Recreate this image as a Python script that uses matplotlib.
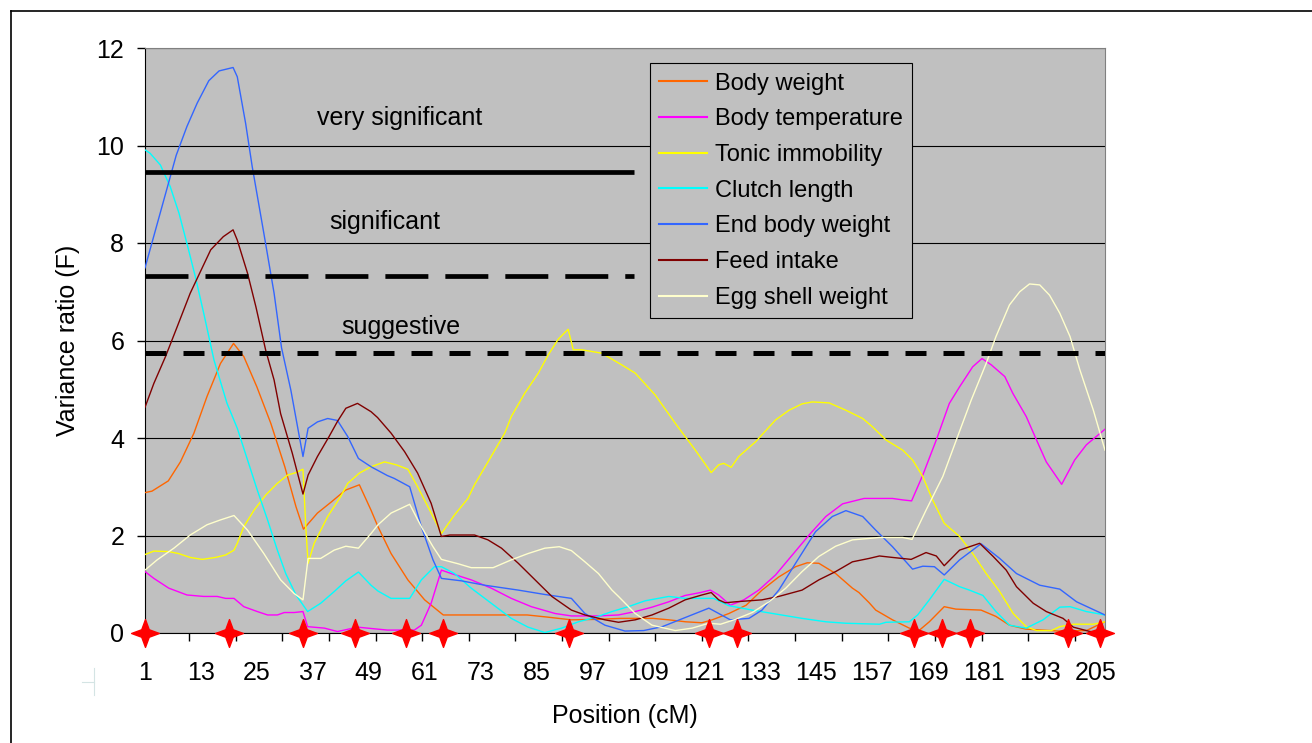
import matplotlib
matplotlib.use('Agg')
import matplotlib.pyplot as plt
from matplotlib.lines import Line2D
from matplotlib.path import Path

plt.rcParams['font.family'] = ['Liberation Sans', 'DejaVu Sans']

# QTL scan values (position in cM, variance ratio F)
bw_x = [1, 2.5, 6, 8.6, 11.5, 14.3, 17.2, 20, 22.2, 25, 28, 31, 33.4, 35, 38, 41, 44, 47, 49.5, 51,
        53.8, 57.4, 61, 65, 83, 87, 92.5, 98, 103, 110, 113.4, 117, 120.5, 122.7, 126.3, 130, 133.4,
        137, 140.6, 143.1, 145.6, 149.2, 152.8, 154.2, 156.4, 157.8, 161.4, 165, 167.2, 169.3, 172.5,
        175, 180.4, 183.6, 186.5, 190, 197, 203, 207]
bw_y = [2.88, 2.91, 3.12, 3.51, 4.1, 4.85, 5.53, 5.94, 5.67, 5.05, 4.3, 3.41, 2.59, 2.13, 2.46, 2.69,
        2.93, 3.04, 2.52, 2.18, 1.63, 1.09, 0.68, 0.37, 0.37, 0.33, 0.27, 0.28, 0.3, 0.3, 0.27, 0.23,
        0.21, 0.27, 0.4, 0.57, 0.88, 1.15, 1.36, 1.44, 1.43, 1.22, 0.92, 0.83, 0.62, 0.47, 0.27, 0.1,
        0.06, 0.23, 0.54, 0.49, 0.47, 0.34, 0.16, 0.08, 0.04, 0.05, 0.23]

bt_x = [1, 2.9, 6.1, 10, 13.6, 16.5, 18.3, 20.1, 22.2, 25.1, 27.3, 29.4, 30.9, 33, 34.9, 35.9, 39.5,
        42.3, 46.6, 53, 58.8, 60.3, 62.4, 64.6, 66.7, 71, 75.3, 79.6, 83.9, 89, 92.5, 98.3, 102.6,
        106.2, 109.8, 113.4, 116.9, 120.2, 122.3, 124.1, 126.6, 129.5, 132.7, 136.3, 139.9, 143.5,
        147.1, 150.7, 155.3, 161.4, 163.6, 165.5, 167.9, 170.8, 173.6, 175.8, 178.6, 180.6, 182.6,
        185.5, 187.2, 190.1, 192.3, 194.4, 197.7, 200.5, 203, 207]
bt_y = [1.26, 1.12, 0.92, 0.78, 0.75, 0.75, 0.71, 0.71, 0.54, 0.44, 0.37, 0.37, 0.42, 0.42, 0.44, 0.13,
        0.1, 0.03, 0.12, 0.06, 0.06, 0.16, 0.61, 1.29, 1.22, 1.09, 0.92, 0.71, 0.54, 0.4, 0.35, 0.35,
        0.37, 0.44, 0.53, 0.64, 0.77, 0.83, 0.88, 0.78, 0.57, 0.68, 0.88, 1.19, 1.6, 2.01, 2.39, 2.65,
        2.76, 2.76, 2.73, 2.71, 3.24, 3.96, 4.71, 5.05, 5.46, 5.63, 5.5, 5.26, 4.92, 4.44, 3.96, 3.51,
        3.05, 3.55, 3.86, 4.18]

ti_x = [1, 2.9, 6.1, 8.2, 10.7, 13.3, 16.1, 18.3, 20.1, 20.8, 22.2, 24.4, 26.9, 29.4, 31.6, 33.4, 34.9,
        35.5, 36, 37.3, 40.2, 43, 44.5, 47, 49.5, 52.4, 54.9, 57.4, 59.5, 62.1, 64.6, 67.4, 70.3, 71.7,
        74.6, 78.2, 79.6, 82.5, 85.4, 87.5, 89.7, 91.8, 92.9, 94.7, 99, 103.3, 106.2, 110.5, 114.8,
        119.1, 122.5, 124.1, 125.2, 126.8, 128.4, 132, 136.3, 139.2, 142, 144.2, 147.8, 151.4, 155,
        157.1, 160, 163.6, 165.7, 167.9, 170, 172.5, 175.8, 178.6, 181.5, 184.4, 187.3, 190.1, 192.3,
        195.5, 197.3, 200.2, 204.5, 207]
ti_y = [1.61, 1.68, 1.67, 1.63, 1.55, 1.51, 1.55, 1.6, 1.7, 1.84, 2.18, 2.52, 2.83, 3.07, 3.24, 3.29,
        3.36, 2.18, 1.43, 1.84, 2.39, 2.8, 3.07, 3.28, 3.41, 3.51, 3.45, 3.36, 3.0, 2.52, 2.04, 2.42,
        2.76, 3.04, 3.51, 4.1, 4.44, 4.92, 5.33, 5.7, 6.03, 6.23, 5.81, 5.81, 5.74, 5.5, 5.33, 4.88, 4.3,
        3.75, 3.29, 3.45, 3.48, 3.4, 3.62, 3.92, 4.37, 4.57, 4.7, 4.74, 4.72, 4.57, 4.4, 4.23, 3.96,
        3.75, 3.55, 3.21, 2.73, 2.25, 1.98, 1.63, 1.22, 0.85, 0.4, 0.13, 0.05, 0.05, 0.13, 0.18, 0.18,
        0.23]

cl_x = [1, 2.1, 4.3, 6.4, 8.3, 10, 11.8, 13.6, 15.8, 18.6, 20.8, 23, 25.1, 27.3, 29.4, 31.2, 33.4, 35.9,
        38.7, 41.6, 44.1, 46.8, 49.5, 51, 53.8, 57.8, 60.3, 63.1, 64.6, 67.4, 71, 75.3, 79.6, 83.2, 86.8,
        90.4, 94, 97.6, 101.2, 104.7, 108.3, 113.4, 116.9, 123, 126.3, 131.3, 136.3, 142, 147.1, 151.4,
        158.6, 160, 165, 166.8, 169.3, 172.5, 175.8, 177.9, 180.8, 183.6, 186.5, 190.1, 193.7, 197.3,
        199.5, 203, 207]
cl_y = [9.91, 9.84, 9.6, 9.16, 8.61, 7.99, 7.31, 6.56, 5.6, 4.71, 4.2, 3.55, 2.93, 2.32, 1.7, 1.22,
        0.78, 0.44, 0.61, 0.85, 1.07, 1.25, 0.98, 0.86, 0.71, 0.71, 1.09, 1.36, 1.36, 1.22, 0.92, 0.61,
        0.3, 0.12, 0.01, 0.1, 0.23, 0.32, 0.44, 0.54, 0.66, 0.75, 0.71, 0.71, 0.56, 0.47, 0.39, 0.3,
        0.23, 0.2, 0.18, 0.22, 0.23, 0.37, 0.68, 1.1, 0.95, 0.88, 0.77, 0.44, 0.16, 0.1, 0.27, 0.53,
        0.54, 0.44, 0.37]

ebw_x = [1, 7.7, 10, 12.2, 14.7, 16.9, 19.9, 20.8, 22.6, 24, 26.5, 28.7, 30.3, 32.3, 34.9, 36, 38,
         40.2, 42.3, 44.5, 46.8, 49.5, 53, 54.5, 57.8, 60.3, 62.8, 64.6, 68.9, 73.9, 81.1, 86.8, 92.5,
         95.4, 99.7, 104, 108, 112, 122, 126.6, 130.6, 133.4, 137, 140.6, 144.9, 148.5, 151.4, 155,
         157.8, 161.4, 165.7, 167.9, 170.4, 172.5, 175.8, 180.4, 184.4, 188, 193, 197.3, 200.9, 207]
ebw_y = [7.49, 9.8, 10.39, 10.87, 11.33, 11.53, 11.6, 11.41, 10.45, 9.57, 8.2, 6.97, 5.85, 4.98, 3.62,
         4.2, 4.33, 4.4, 4.36, 4.03, 3.58, 3.41, 3.23, 3.17, 3.0, 2.18, 1.5, 1.12, 1.07, 0.98, 0.88,
         0.79, 0.71, 0.4, 0.16, 0.04, 0.05, 0.13, 0.51, 0.27, 0.3, 0.47, 0.88, 1.43, 2.08, 2.39, 2.51,
         2.39, 2.11, 1.77, 1.31, 1.37, 1.36, 1.19, 1.5, 1.83, 1.53, 1.22, 0.98, 0.9, 0.64, 0.37]

fi_x = [1, 2.9, 5.4, 7.9, 10.7, 15.1, 17.8, 19.9, 20.8, 23, 24.8, 26.9, 28.7, 30.1, 32.6, 34.9, 36, 38,
        40.5, 42.3, 44.1, 46.6, 49.5, 50.9, 53.8, 56.7, 59.5, 62.4, 64.6, 66.4, 71.7, 74.6, 77.5, 81.1,
        84.7, 88.3, 92.5, 95.4, 99.7, 102.6, 106.2, 109.8, 113.4, 116.9, 120.5, 122.5, 124.1, 125.5,
        127.7, 133.4, 137, 142, 145.6, 149.2, 152.8, 156.4, 158.6, 161.4, 165.4, 168.6, 170.8, 172.5,
        175.8, 180.1, 183, 185.8, 188, 191.6, 194.4, 198, 200.2, 203.8, 207]
fi_y = [4.63, 5.12, 5.67, 6.28, 6.97, 7.86, 8.13, 8.27, 8.06, 7.38, 6.69, 5.8, 5.19, 4.5, 3.69, 2.85,
        3.24, 3.62, 4.03, 4.34, 4.61, 4.71, 4.54, 4.42, 4.1, 3.72, 3.28, 2.66, 1.98, 2.01, 2.01, 1.91,
        1.74, 1.43, 1.09, 0.75, 0.47, 0.37, 0.27, 0.22, 0.27, 0.37, 0.51, 0.68, 0.78, 0.83, 0.68, 0.62,
        0.64, 0.68, 0.75, 0.88, 1.09, 1.26, 1.46, 1.53, 1.58, 1.55, 1.51, 1.65, 1.58, 1.38, 1.7, 1.84,
        1.57, 1.29, 0.95, 0.61, 0.44, 0.3, 0.12, 0.03, 0.03]

es_x = [1, 3.6, 7.2, 10.7, 14.3, 17.2, 20.1, 23, 26.5, 30.1, 33, 34.9, 36, 38.7, 41.6, 44.1, 46.8, 49.5,
        51, 53.8, 57.8, 60.3, 62.8, 64.6, 68.2, 71, 75.7, 79.6, 83.2, 86.8, 89.9, 92.5, 95.4, 98.3,
        101.2, 102.6, 106.2, 109.8, 114.8, 118.4, 122, 124.5, 127.7, 131.3, 134.9, 138.5, 142, 145.6,
        149.2, 152.8, 156.4, 158.6, 163.6, 165.6, 168.6, 172.2, 175.1, 178.3, 181.5, 183.6, 186.5,
        188.7, 190.8, 193, 195.1, 197.3, 199.5, 201.6, 204.5, 207]
es_y = [1.29, 1.5, 1.74, 2.01, 2.22, 2.32, 2.41, 2.11, 1.63, 1.09, 0.81, 0.68, 1.53, 1.53, 1.7, 1.78,
        1.74, 2.04, 2.22, 2.46, 2.64, 2.18, 1.77, 1.51, 1.42, 1.34, 1.34, 1.5, 1.63, 1.74, 1.77, 1.69,
        1.46, 1.22, 0.88, 0.75, 0.4, 0.16, 0.05, 0.1, 0.2, 0.18, 0.28, 0.42, 0.64, 0.92, 1.26, 1.57,
        1.78, 1.91, 1.94, 1.96, 1.96, 1.92, 2.52, 3.21, 3.96, 4.78, 5.53, 6.08, 6.73, 7.0, 7.16, 7.14,
        6.93, 6.56, 6.08, 5.4, 4.57, 3.75]

series = [
    ('Body weight', bw_x, bw_y, '#FF6600'),
    ('Body temperature', bt_x, bt_y, '#FF00FF'),
    ('Tonic immobility', ti_x, ti_y, '#FFFF00'),
    ('Clutch length', cl_x, cl_y, '#00FFFF'),
    ('End body weight', ebw_x, ebw_y, '#3366FF'),
    ('Feed intake', fi_x, fi_y, '#800000'),
    ('Egg shell weight', es_x, es_y, '#FFFFCC'),
]

# significance thresholds
very_sig = 9.46
sig = 7.33
suggestive = 5.74
thr_short_x = [1, 106]
thr_full_x = [1, 207]

# marker positions along the linkage group
marker_pos = [1, 19, 35, 46, 57, 65, 92, 122, 128, 166, 172, 178, 199, 206]

tick_labels = list(range(1, 206, 12))
tick_marks = [10.5 + 10 * i for i in range(20)]

fig = plt.figure(figsize=(13.12, 7.43), dpi=100)
ax = fig.add_axes([145 / 1312, 1 - 633 / 743, 960 / 1312, 585 / 743])
ax.set_facecolor('#C0C0C0')

handles = []
for name, xs, ys, col in series:
    h, = ax.plot(xs, ys, color=col, lw=1.0, label=name, zorder=3)
    handles.append(h)

ax.plot(thr_short_x, [very_sig] * 2, color='black', lw=3.4, solid_capstyle='butt', zorder=4)
ax.plot(thr_short_x, [sig] * 2, color='black', lw=3.4, dashes=(9.1, 3.6), zorder=4)
ax.plot(thr_full_x, [suggestive] * 2, color='black', lw=3.6, dashes=(4.2, 3.4), zorder=4)

ax.text(55.7, 10.56, 'very significant', ha='center', va='center', fontsize=18, zorder=5)
ax.text(52.4, 8.43, 'significant', ha='center', va='center', fontsize=18, zorder=5)
ax.text(55.9, 6.28, 'suggestive', ha='center', va='center', fontsize=18, zorder=5)

star = Path([(0, 1), (0.27, 0.27), (1, 0), (0.27, -0.27), (0, -1), (-0.27, -0.27), (-1, 0),
             (-0.27, 0.27), (0, 1)],
            [Path.MOVETO] + [Path.LINETO] * 7 + [Path.CLOSEPOLY])
ax.plot(marker_pos, [0] * len(marker_pos), ls='none', marker=star, markersize=20,
        color='#FF0000', mec='#FF0000', clip_on=False, zorder=6)

ax.set_xlim(1, 207)
ax.set_ylim(0, 12)
ax.set_yticks(range(0, 13, 2))
ax.yaxis.grid(True, color='black', lw=0.8)
ax.set_axisbelow(True)
ax.set_xticks(tick_labels)
ax.set_xticklabels([str(t) for t in tick_labels])
ax.set_xticks(tick_marks, minor=True)
ax.tick_params(axis='x', which='major', length=0, pad=20, labelsize=18)
ax.tick_params(axis='x', which='minor', length=6, width=1, color='black')
ax.tick_params(axis='y', length=6, width=1, pad=9, labelsize=18)

for s in ['top', 'right']:
    ax.spines[s].set_color('#808080')
for s in ['left', 'bottom']:
    ax.spines[s].set_color('black')

ax.set_xlabel('Position (cM)', fontsize=18, labelpad=14)
ax.set_ylabel('Variance ratio (F)', fontsize=18, labelpad=12)

leg = ax.legend(handles=handles, loc='upper left', bbox_to_anchor=(0.526, 0.974), borderaxespad=0,
                fontsize=17, frameon=True, fancybox=False, edgecolor='black', facecolor='#C0C0C0',
                framealpha=1, borderpad=0.4, labelspacing=0.58, handlelength=2.0, handletextpad=0.35)
leg.get_frame().set_linewidth(0.8)
for ln in leg.get_lines():
    ln.set_linewidth(1.5)

# outer frame of the chart object
fig.add_artist(Line2D([11 / 1312, 1], [1 - 11 / 743] * 2, color='black', lw=1.2))
fig.add_artist(Line2D([11 / 1312] * 2, [0, 1 - 11 / 743], color='black', lw=1.2))
# stray faint cross left of the axis
fig.add_artist(Line2D([94 / 1312] * 2, [1 - 668 / 743, 1 - 695 / 743], color='#D4E4E4', lw=0.8))
fig.add_artist(Line2D([82 / 1312, 94 / 1312], [1 - 682 / 743] * 2, color='#D4E4E4', lw=0.8))

fig.savefig('out.png', dpi=100)
